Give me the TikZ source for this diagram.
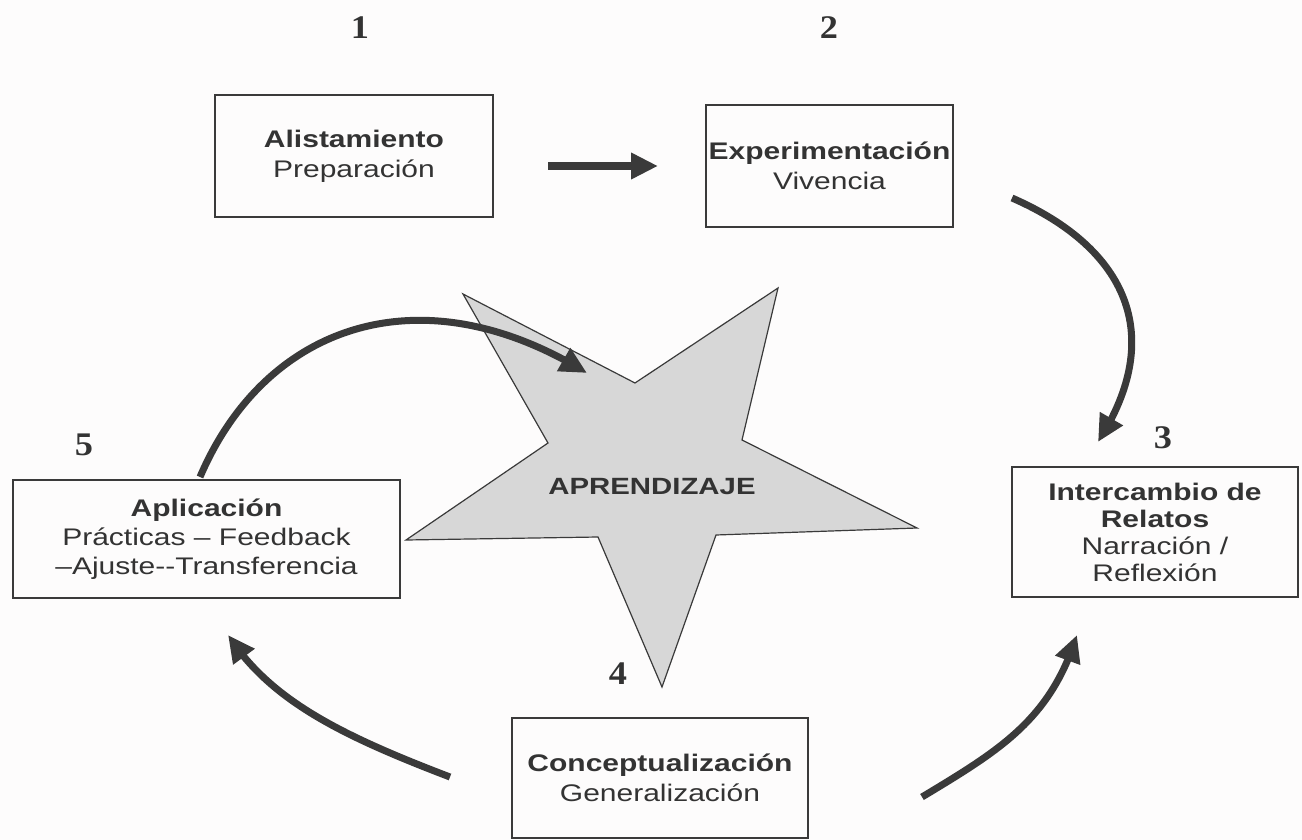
\documentclass[tikz,border=0pt]{standalone}
\usepackage{fontspec}
\setmainfont{Liberation Sans}[FakeStretch=1.25]
\newfontfamily\numfont{Liberation Serif}[FakeStretch=1.1]
\usetikzlibrary{arrows.meta,bending}
\definecolor{ink}{HTML}{333333}
\definecolor{linec}{HTML}{3A3A3A}
\definecolor{starfill}{HTML}{D7D7D7}
\definecolor{bg}{HTML}{FDFCFC}
\begin{document}
\begin{tikzpicture}[x=1pt,y=-1pt,
  box/.style={draw=linec, line width=1.3pt, align=center, inner sep=0pt, text=ink, font=\fontsize{24}{30}\selectfont},
  num/.style={text=ink, font=\numfont\bfseries\fontsize{33}{33}\selectfont},
  flow/.style={draw=linec, line width=7pt, -{Triangle[length=27pt,width=25pt,flex]}},
  starshape/.style={draw=linec, line width=1.2pt, fill=starfill},
  startext/.style={text=ink, font=\bfseries\fontsize{23.5}{23.5}\selectfont},
]
\fill[bg] (0,0) rectangle (1302,840);
\useasboundingbox (0,0) rectangle (1302,840);

% star
\draw[starshape] (463,294) -- (635,383) -- (778,288) -- (742,440) -- (917,528)
  -- (716,535) -- (662,687) -- (598,537) -- (406,540) -- (548,443) -- cycle;
\node[startext] (star) at (652,487) {APRENDIZAJE};

% boxes
\node[box, minimum width=278pt, minimum height=122pt] (alist) at (354,156) {\textbf{Alistamiento}\\Preparación};
\node[box, minimum width=247pt, minimum height=122pt] (exper) at (829.5,166) {\textbf{Experimentación}\\Vivencia};
\node[box, minimum width=286pt, minimum height=130pt, font=\fontsize{24}{27}\selectfont] (inter) at (1155,532) {\textbf{Intercambio de}\\\textbf{Relatos}\\Narración /\\Reflexión};
\node[box, minimum width=296pt, minimum height=120pt] (concep) at (660,778) {\textbf{Conceptualización}\\Generalización};
\node[box, minimum width=387pt, minimum height=118pt, font=\fontsize{24}{29}\selectfont] (aplic) at (206.5,539) {\textbf{Aplicación}\\Prácticas – Feedback\\–Ajuste-{}-Transferencia};

% numbers
\node[num] (n1) at (360,28) {1};
\node[num] (n2) at (829,28) {2};
\node[num] (n3) at (1163,438) {3};
\node[num] (n4) at (618,674) {4};
\node[num] (n5) at (84,445) {5};

% arrows
\coordinate (a1s) at (548,166); \coordinate (a1e) at (658,166);
\draw[flow, line width=8pt] (a1s) -- (a1e);
\coordinate (a2s) at (1012,198); \coordinate (a2e) at (1098,442);
\draw[flow] (a2s) .. controls (1120,245) and (1170,330) .. (a2e);
\coordinate (a3s) at (200,477); \coordinate (a3e) at (587,373);
\draw[flow] (a3s) .. controls (265,325) and (420,270) .. (a3e);
\coordinate (a4s) at (450,777); \coordinate (a4e) at (228,635);
\draw[flow] (a4s) .. controls (340,735) and (270,700) .. (a4e);
\coordinate (a5s) at (922,797); \coordinate (a5e) at (1077,635);
\draw[flow] (a5s) .. controls (1000,750) and (1050,720) .. (a5e);
\end{tikzpicture}
\end{document}
